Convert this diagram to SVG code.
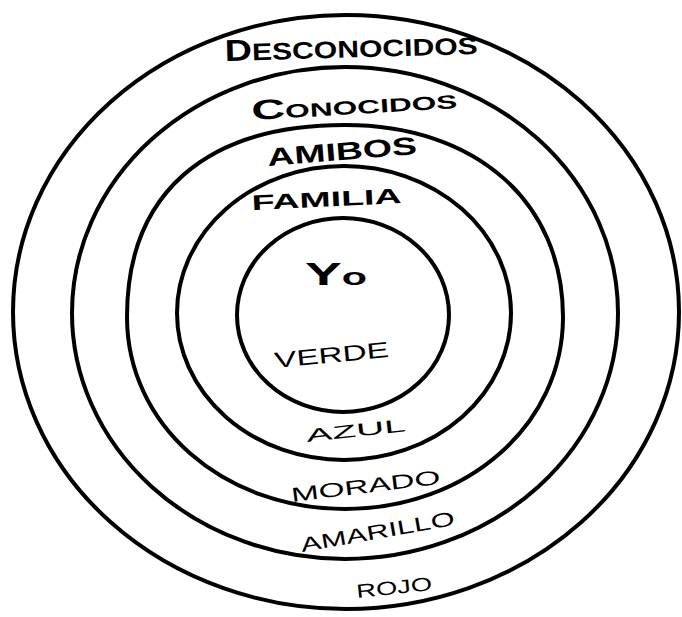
<svg xmlns="http://www.w3.org/2000/svg" width="682" height="617" viewBox="0 0 682 617">
<style>
.ring{fill:none;stroke:#000;stroke-width:4;stroke-linejoin:round}
.lbl{font-family:"Liberation Sans",Arial,sans-serif;font-weight:bold;fill:#000}
.col{font-family:"Liberation Sans",Arial,sans-serif;font-weight:normal;fill:#000}
</style>
<rect width="682" height="617" fill="#fff"/>
<g id="desconocidos">
<ellipse class="ring" cx="346" cy="312" rx="333" ry="297"/>
<text class="lbl" x="225" y="61" font-size="24" textLength="253" lengthAdjust="spacingAndGlyphs" transform="rotate(-1.6 225 61)"><tspan font-size="30">D</tspan>ESCONOCIDOS</text>
<text class="col" x="357" y="598" font-size="19" textLength="76" lengthAdjust="spacingAndGlyphs" transform="rotate(-6 357 598)">ROJO</text>
</g>
<g id="conocidos">
<ellipse class="ring" cx="345" cy="313" rx="273" ry="246"/>
<text class="lbl" x="252" y="120" font-size="19" textLength="206" lengthAdjust="spacingAndGlyphs" transform="rotate(-3.3 252 120)"><tspan font-size="28">C</tspan>ONOCIDOS</text>
<text class="col" x="302" y="552" font-size="20" textLength="156" lengthAdjust="spacingAndGlyphs" transform="rotate(-10 302 552)">AMARILLO</text>
</g>
<g id="amigos">
<path class="ring" d="M127 317 C127 194 205 125 345 125 C476 125 563 202 563 317 C563 425 467 509 345 509 C223 509 127 425 127 317 Z"/>
<text class="lbl" x="268" y="166" font-size="25" textLength="150" lengthAdjust="spacingAndGlyphs" transform="rotate(-4.6 268 166)">AMIBOS</text>
<text class="col" x="292" y="502" font-size="20" textLength="150" lengthAdjust="spacingAndGlyphs" transform="rotate(-7 292 502)">MORADO</text>
</g>
<g id="familia">
<ellipse class="ring" cx="344" cy="313" rx="167" ry="147"/>
<text class="lbl" x="252" y="210" font-size="21" textLength="150" lengthAdjust="spacingAndGlyphs" transform="rotate(-2.7 252 210)">FAMILIA</text>
<text class="col" x="307" y="442" font-size="18" textLength="100" lengthAdjust="spacingAndGlyphs" transform="rotate(-6.3 307 442)">AZUL</text>
</g>
<g id="yo">
<ellipse class="ring" cx="343" cy="315" rx="106" ry="97"/>
<text class="lbl" x="305" y="285" font-size="32" textLength="62" lengthAdjust="spacingAndGlyphs">Y<tspan font-size="24">o</tspan></text>
<text class="col" x="275" y="368" font-size="22" textLength="115" lengthAdjust="spacingAndGlyphs" transform="rotate(-5.5 275 368)">VERDE</text>
</g>
<g id="connectors"/>
</svg>
